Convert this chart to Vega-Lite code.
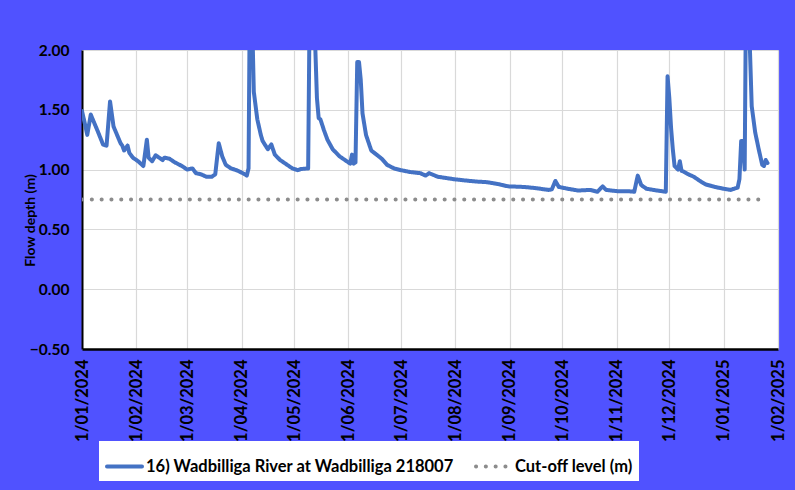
{
  "$schema": "https://vega.github.io/schema/vega-lite/v6.json",
  "width": 696,
  "height": 299,
  "autosize": {"type": "none"},
  "padding": {"left": 82, "top": 50, "right": 17, "bottom": 141},
  "background": "#5052FF",
  "config": {
    "view": {"fill": "white", "stroke": null},
    "font": "Lato",
    "axis": {"labelFont": "Lato", "labelFontWeight": "bold", "labelColor": "#000000", "titleColor": "#000000", "ticks": false, "gridColor": "#D9D9D9", "gridWidth": 1.2, "domainColor": "#000000"}
  },
  "data": {
    "values": [
      {"date": "2024-01-01", "depth": 1.49, "series": "16) Wadbilliga River at Wadbilliga 218007"},
      {"date": "2024-01-03", "depth": 1.36, "series": "16) Wadbilliga River at Wadbilliga 218007"},
      {"date": "2024-01-04", "depth": 1.29, "series": "16) Wadbilliga River at Wadbilliga 218007"},
      {"date": "2024-01-06", "depth": 1.46, "series": "16) Wadbilliga River at Wadbilliga 218007"},
      {"date": "2024-01-08", "depth": 1.39, "series": "16) Wadbilliga River at Wadbilliga 218007"},
      {"date": "2024-01-10", "depth": 1.32, "series": "16) Wadbilliga River at Wadbilliga 218007"},
      {"date": "2024-01-13", "depth": 1.21, "series": "16) Wadbilliga River at Wadbilliga 218007"},
      {"date": "2024-01-15", "depth": 1.2, "series": "16) Wadbilliga River at Wadbilliga 218007"},
      {"date": "2024-01-17", "depth": 1.57, "series": "16) Wadbilliga River at Wadbilliga 218007"},
      {"date": "2024-01-19", "depth": 1.36, "series": "16) Wadbilliga River at Wadbilliga 218007"},
      {"date": "2024-01-21", "depth": 1.29, "series": "16) Wadbilliga River at Wadbilliga 218007"},
      {"date": "2024-01-23", "depth": 1.22, "series": "16) Wadbilliga River at Wadbilliga 218007"},
      {"date": "2024-01-24", "depth": 1.2, "series": "16) Wadbilliga River at Wadbilliga 218007"},
      {"date": "2024-01-25", "depth": 1.16, "series": "16) Wadbilliga River at Wadbilliga 218007"},
      {"date": "2024-01-27", "depth": 1.2, "series": "16) Wadbilliga River at Wadbilliga 218007"},
      {"date": "2024-01-28", "depth": 1.14, "series": "16) Wadbilliga River at Wadbilliga 218007"},
      {"date": "2024-01-30", "depth": 1.1, "series": "16) Wadbilliga River at Wadbilliga 218007"},
      {"date": "2024-02-02", "depth": 1.07, "series": "16) Wadbilliga River at Wadbilliga 218007"},
      {"date": "2024-02-05", "depth": 1.03, "series": "16) Wadbilliga River at Wadbilliga 218007"},
      {"date": "2024-02-07", "depth": 1.25, "series": "16) Wadbilliga River at Wadbilliga 218007"},
      {"date": "2024-02-08", "depth": 1.1, "series": "16) Wadbilliga River at Wadbilliga 218007"},
      {"date": "2024-02-10", "depth": 1.07, "series": "16) Wadbilliga River at Wadbilliga 218007"},
      {"date": "2024-02-12", "depth": 1.12, "series": "16) Wadbilliga River at Wadbilliga 218007"},
      {"date": "2024-02-14", "depth": 1.1, "series": "16) Wadbilliga River at Wadbilliga 218007"},
      {"date": "2024-02-16", "depth": 1.08, "series": "16) Wadbilliga River at Wadbilliga 218007"},
      {"date": "2024-02-17", "depth": 1.1, "series": "16) Wadbilliga River at Wadbilliga 218007"},
      {"date": "2024-02-20", "depth": 1.09, "series": "16) Wadbilliga River at Wadbilliga 218007"},
      {"date": "2024-02-23", "depth": 1.06, "series": "16) Wadbilliga River at Wadbilliga 218007"},
      {"date": "2024-02-27", "depth": 1.03, "series": "16) Wadbilliga River at Wadbilliga 218007"},
      {"date": "2024-03-01", "depth": 1.0, "series": "16) Wadbilliga River at Wadbilliga 218007"},
      {"date": "2024-03-04", "depth": 1.01, "series": "16) Wadbilliga River at Wadbilliga 218007"},
      {"date": "2024-03-06", "depth": 0.97, "series": "16) Wadbilliga River at Wadbilliga 218007"},
      {"date": "2024-03-09", "depth": 0.96, "series": "16) Wadbilliga River at Wadbilliga 218007"},
      {"date": "2024-03-12", "depth": 0.94, "series": "16) Wadbilliga River at Wadbilliga 218007"},
      {"date": "2024-03-15", "depth": 0.94, "series": "16) Wadbilliga River at Wadbilliga 218007"},
      {"date": "2024-03-17", "depth": 0.96, "series": "16) Wadbilliga River at Wadbilliga 218007"},
      {"date": "2024-03-19", "depth": 1.22, "series": "16) Wadbilliga River at Wadbilliga 218007"},
      {"date": "2024-03-21", "depth": 1.11, "series": "16) Wadbilliga River at Wadbilliga 218007"},
      {"date": "2024-03-23", "depth": 1.04, "series": "16) Wadbilliga River at Wadbilliga 218007"},
      {"date": "2024-03-26", "depth": 1.01, "series": "16) Wadbilliga River at Wadbilliga 218007"},
      {"date": "2024-03-30", "depth": 0.99, "series": "16) Wadbilliga River at Wadbilliga 218007"},
      {"date": "2024-04-03", "depth": 0.96, "series": "16) Wadbilliga River at Wadbilliga 218007"},
      {"date": "2024-04-04", "depth": 0.95, "series": "16) Wadbilliga River at Wadbilliga 218007"},
      {"date": "2024-04-05", "depth": 1.01, "series": "16) Wadbilliga River at Wadbilliga 218007"},
      {"date": "2024-04-06", "depth": 3.0, "series": "16) Wadbilliga River at Wadbilliga 218007"},
      {"date": "2024-04-07", "depth": 2.3, "series": "16) Wadbilliga River at Wadbilliga 218007"},
      {"date": "2024-04-08", "depth": 1.65, "series": "16) Wadbilliga River at Wadbilliga 218007"},
      {"date": "2024-04-10", "depth": 1.42, "series": "16) Wadbilliga River at Wadbilliga 218007"},
      {"date": "2024-04-12", "depth": 1.29, "series": "16) Wadbilliga River at Wadbilliga 218007"},
      {"date": "2024-04-13", "depth": 1.24, "series": "16) Wadbilliga River at Wadbilliga 218007"},
      {"date": "2024-04-16", "depth": 1.17, "series": "16) Wadbilliga River at Wadbilliga 218007"},
      {"date": "2024-04-17", "depth": 1.19, "series": "16) Wadbilliga River at Wadbilliga 218007"},
      {"date": "2024-04-18", "depth": 1.21, "series": "16) Wadbilliga River at Wadbilliga 218007"},
      {"date": "2024-04-20", "depth": 1.125, "series": "16) Wadbilliga River at Wadbilliga 218007"},
      {"date": "2024-04-23", "depth": 1.08, "series": "16) Wadbilliga River at Wadbilliga 218007"},
      {"date": "2024-04-27", "depth": 1.04, "series": "16) Wadbilliga River at Wadbilliga 218007"},
      {"date": "2024-04-30", "depth": 1.01, "series": "16) Wadbilliga River at Wadbilliga 218007"},
      {"date": "2024-05-03", "depth": 0.995, "series": "16) Wadbilliga River at Wadbilliga 218007"},
      {"date": "2024-05-05", "depth": 1.005, "series": "16) Wadbilliga River at Wadbilliga 218007"},
      {"date": "2024-05-09", "depth": 1.01, "series": "16) Wadbilliga River at Wadbilliga 218007"},
      {"date": "2024-05-10", "depth": 2.6, "series": "16) Wadbilliga River at Wadbilliga 218007"},
      {"date": "2024-05-11", "depth": 2.6, "series": "16) Wadbilliga River at Wadbilliga 218007"},
      {"date": "2024-05-12", "depth": 2.4, "series": "16) Wadbilliga River at Wadbilliga 218007"},
      {"date": "2024-05-13", "depth": 2.05, "series": "16) Wadbilliga River at Wadbilliga 218007"},
      {"date": "2024-05-14", "depth": 1.6, "series": "16) Wadbilliga River at Wadbilliga 218007"},
      {"date": "2024-05-15", "depth": 1.43, "series": "16) Wadbilliga River at Wadbilliga 218007"},
      {"date": "2024-05-16", "depth": 1.42, "series": "16) Wadbilliga River at Wadbilliga 218007"},
      {"date": "2024-05-18", "depth": 1.33, "series": "16) Wadbilliga River at Wadbilliga 218007"},
      {"date": "2024-05-20", "depth": 1.25, "series": "16) Wadbilliga River at Wadbilliga 218007"},
      {"date": "2024-05-23", "depth": 1.17, "series": "16) Wadbilliga River at Wadbilliga 218007"},
      {"date": "2024-05-27", "depth": 1.11, "series": "16) Wadbilliga River at Wadbilliga 218007"},
      {"date": "2024-05-31", "depth": 1.07, "series": "16) Wadbilliga River at Wadbilliga 218007"},
      {"date": "2024-06-02", "depth": 1.05, "series": "16) Wadbilliga River at Wadbilliga 218007"},
      {"date": "2024-06-03", "depth": 1.125, "series": "16) Wadbilliga River at Wadbilliga 218007"},
      {"date": "2024-06-04", "depth": 1.05, "series": "16) Wadbilliga River at Wadbilliga 218007"},
      {"date": "2024-06-05", "depth": 1.06, "series": "16) Wadbilliga River at Wadbilliga 218007"},
      {"date": "2024-06-06", "depth": 1.9, "series": "16) Wadbilliga River at Wadbilliga 218007"},
      {"date": "2024-06-07", "depth": 1.9, "series": "16) Wadbilliga River at Wadbilliga 218007"},
      {"date": "2024-06-08", "depth": 1.75, "series": "16) Wadbilliga River at Wadbilliga 218007"},
      {"date": "2024-06-09", "depth": 1.47, "series": "16) Wadbilliga River at Wadbilliga 218007"},
      {"date": "2024-06-11", "depth": 1.29, "series": "16) Wadbilliga River at Wadbilliga 218007"},
      {"date": "2024-06-14", "depth": 1.16, "series": "16) Wadbilliga River at Wadbilliga 218007"},
      {"date": "2024-06-17", "depth": 1.125, "series": "16) Wadbilliga River at Wadbilliga 218007"},
      {"date": "2024-06-20", "depth": 1.09, "series": "16) Wadbilliga River at Wadbilliga 218007"},
      {"date": "2024-06-23", "depth": 1.04, "series": "16) Wadbilliga River at Wadbilliga 218007"},
      {"date": "2024-06-27", "depth": 1.01, "series": "16) Wadbilliga River at Wadbilliga 218007"},
      {"date": "2024-07-01", "depth": 0.995, "series": "16) Wadbilliga River at Wadbilliga 218007"},
      {"date": "2024-07-06", "depth": 0.98, "series": "16) Wadbilliga River at Wadbilliga 218007"},
      {"date": "2024-07-12", "depth": 0.97, "series": "16) Wadbilliga River at Wadbilliga 218007"},
      {"date": "2024-07-15", "depth": 0.95, "series": "16) Wadbilliga River at Wadbilliga 218007"},
      {"date": "2024-07-17", "depth": 0.97, "series": "16) Wadbilliga River at Wadbilliga 218007"},
      {"date": "2024-07-22", "depth": 0.94, "series": "16) Wadbilliga River at Wadbilliga 218007"},
      {"date": "2024-07-31", "depth": 0.92, "series": "16) Wadbilliga River at Wadbilliga 218007"},
      {"date": "2024-08-06", "depth": 0.91, "series": "16) Wadbilliga River at Wadbilliga 218007"},
      {"date": "2024-08-13", "depth": 0.9, "series": "16) Wadbilliga River at Wadbilliga 218007"},
      {"date": "2024-08-19", "depth": 0.895, "series": "16) Wadbilliga River at Wadbilliga 218007"},
      {"date": "2024-08-25", "depth": 0.88, "series": "16) Wadbilliga River at Wadbilliga 218007"},
      {"date": "2024-08-31", "depth": 0.86, "series": "16) Wadbilliga River at Wadbilliga 218007"},
      {"date": "2024-09-09", "depth": 0.855, "series": "16) Wadbilliga River at Wadbilliga 218007"},
      {"date": "2024-09-16", "depth": 0.845, "series": "16) Wadbilliga River at Wadbilliga 218007"},
      {"date": "2024-09-23", "depth": 0.83, "series": "16) Wadbilliga River at Wadbilliga 218007"},
      {"date": "2024-09-25", "depth": 0.835, "series": "16) Wadbilliga River at Wadbilliga 218007"},
      {"date": "2024-09-27", "depth": 0.905, "series": "16) Wadbilliga River at Wadbilliga 218007"},
      {"date": "2024-09-29", "depth": 0.855, "series": "16) Wadbilliga River at Wadbilliga 218007"},
      {"date": "2024-10-04", "depth": 0.84, "series": "16) Wadbilliga River at Wadbilliga 218007"},
      {"date": "2024-10-10", "depth": 0.825, "series": "16) Wadbilliga River at Wadbilliga 218007"},
      {"date": "2024-10-17", "depth": 0.83, "series": "16) Wadbilliga River at Wadbilliga 218007"},
      {"date": "2024-10-21", "depth": 0.815, "series": "16) Wadbilliga River at Wadbilliga 218007"},
      {"date": "2024-10-24", "depth": 0.86, "series": "16) Wadbilliga River at Wadbilliga 218007"},
      {"date": "2024-10-26", "depth": 0.83, "series": "16) Wadbilliga River at Wadbilliga 218007"},
      {"date": "2024-11-01", "depth": 0.82, "series": "16) Wadbilliga River at Wadbilliga 218007"},
      {"date": "2024-11-07", "depth": 0.82, "series": "16) Wadbilliga River at Wadbilliga 218007"},
      {"date": "2024-11-11", "depth": 0.815, "series": "16) Wadbilliga River at Wadbilliga 218007"},
      {"date": "2024-11-13", "depth": 0.95, "series": "16) Wadbilliga River at Wadbilliga 218007"},
      {"date": "2024-11-15", "depth": 0.87, "series": "16) Wadbilliga River at Wadbilliga 218007"},
      {"date": "2024-11-18", "depth": 0.84, "series": "16) Wadbilliga River at Wadbilliga 218007"},
      {"date": "2024-11-24", "depth": 0.825, "series": "16) Wadbilliga River at Wadbilliga 218007"},
      {"date": "2024-11-29", "depth": 0.815, "series": "16) Wadbilliga River at Wadbilliga 218007"},
      {"date": "2024-11-30", "depth": 1.78, "series": "16) Wadbilliga River at Wadbilliga 218007"},
      {"date": "2024-12-01", "depth": 1.6, "series": "16) Wadbilliga River at Wadbilliga 218007"},
      {"date": "2024-12-02", "depth": 1.35, "series": "16) Wadbilliga River at Wadbilliga 218007"},
      {"date": "2024-12-03", "depth": 1.17, "series": "16) Wadbilliga River at Wadbilliga 218007"},
      {"date": "2024-12-04", "depth": 1.03, "series": "16) Wadbilliga River at Wadbilliga 218007"},
      {"date": "2024-12-06", "depth": 1.0, "series": "16) Wadbilliga River at Wadbilliga 218007"},
      {"date": "2024-12-07", "depth": 1.07, "series": "16) Wadbilliga River at Wadbilliga 218007"},
      {"date": "2024-12-08", "depth": 0.99, "series": "16) Wadbilliga River at Wadbilliga 218007"},
      {"date": "2024-12-09", "depth": 0.985, "series": "16) Wadbilliga River at Wadbilliga 218007"},
      {"date": "2024-12-12", "depth": 0.96, "series": "16) Wadbilliga River at Wadbilliga 218007"},
      {"date": "2024-12-15", "depth": 0.94, "series": "16) Wadbilliga River at Wadbilliga 218007"},
      {"date": "2024-12-19", "depth": 0.9, "series": "16) Wadbilliga River at Wadbilliga 218007"},
      {"date": "2024-12-22", "depth": 0.875, "series": "16) Wadbilliga River at Wadbilliga 218007"},
      {"date": "2024-12-27", "depth": 0.855, "series": "16) Wadbilliga River at Wadbilliga 218007"},
      {"date": "2025-01-01", "depth": 0.84, "series": "16) Wadbilliga River at Wadbilliga 218007"},
      {"date": "2025-01-05", "depth": 0.83, "series": "16) Wadbilliga River at Wadbilliga 218007"},
      {"date": "2025-01-07", "depth": 0.84, "series": "16) Wadbilliga River at Wadbilliga 218007"},
      {"date": "2025-01-09", "depth": 0.85, "series": "16) Wadbilliga River at Wadbilliga 218007"},
      {"date": "2025-01-10", "depth": 0.92, "series": "16) Wadbilliga River at Wadbilliga 218007"},
      {"date": "2025-01-11", "depth": 1.24, "series": "16) Wadbilliga River at Wadbilliga 218007"},
      {"date": "2025-01-12", "depth": 1.24, "series": "16) Wadbilliga River at Wadbilliga 218007"},
      {"date": "2025-01-13", "depth": 1.0, "series": "16) Wadbilliga River at Wadbilliga 218007"},
      {"date": "2025-01-14", "depth": 3.0, "series": "16) Wadbilliga River at Wadbilliga 218007"},
      {"date": "2025-01-15", "depth": 2.6, "series": "16) Wadbilliga River at Wadbilliga 218007"},
      {"date": "2025-01-16", "depth": 2.0, "series": "16) Wadbilliga River at Wadbilliga 218007"},
      {"date": "2025-01-17", "depth": 1.53, "series": "16) Wadbilliga River at Wadbilliga 218007"},
      {"date": "2025-01-19", "depth": 1.31, "series": "16) Wadbilliga River at Wadbilliga 218007"},
      {"date": "2025-01-21", "depth": 1.17, "series": "16) Wadbilliga River at Wadbilliga 218007"},
      {"date": "2025-01-23", "depth": 1.04, "series": "16) Wadbilliga River at Wadbilliga 218007"},
      {"date": "2025-01-24", "depth": 1.03, "series": "16) Wadbilliga River at Wadbilliga 218007"},
      {"date": "2025-01-25", "depth": 1.08, "series": "16) Wadbilliga River at Wadbilliga 218007"},
      {"date": "2025-01-26", "depth": 1.055, "series": "16) Wadbilliga River at Wadbilliga 218007"},
      {"date": "2024-01-01", "depth": 0.75, "series": "Cut-off level (m)"},
      {"date": "2025-01-25", "depth": 0.75, "series": "Cut-off level (m)"}
    ]
  },
  "mark": {"type": "line", "strokeWidth": 4, "strokeCap": "round", "strokeJoin": "round", "clip": true},
  "encoding": {
    "x": {
      "field": "date",
      "type": "temporal",
      "scale": {"type": "utc", "domain": [{"year": 2024, "month": 1, "date": 1, "utc": true}, {"year": 2025, "month": 2, "date": 1, "utc": true}], "nice": false},
      "axis": {
        "title": null,
        "format": "%-d/%m/%Y",
        "tickCount": {"interval": "month", "step": 1},
        "labelAngle": -90,
        "labelFontSize": 16.5,
        "labelPadding": 10,
        "labelOverlap": false,
        "labelFlush": false,
        "domainWidth": 2.5,
        "grid": true
      }
    },
    "y": {
      "field": "depth",
      "type": "quantitative",
      "scale": {"domain": [-0.5, 2], "nice": false, "zero": false},
      "axis": {
        "title": "Flow depth (m)",
        "titleFontSize": 14,
        "titleFontWeight": "bold",
        "titleFont": "Lato",
        "titleX": -45,
        "titleY": 170,
        "values": [-0.5, 0, 0.5, 1, 1.5, 2],
        "format": ".2f",
        "labelFontSize": 15.5,
        "labelPadding": 13,
        "domainWidth": 2,
        "grid": true
      }
    },
    "color": {
      "field": "series",
      "type": "nominal",
      "scale": {"domain": ["16) Wadbilliga River at Wadbilliga 218007", "Cut-off level (m)"], "range": ["#4472C4", "#8C8C8C"]},
      "legend": {
        "title": null,
        "orient": "none",
        "legendX": 17,
        "legendY": 391,
        "direction": "horizontal",
        "fillColor": "white",
        "padding": 6,
        "labelFont": "Lato",
        "labelFontWeight": "bold",
        "labelFontSize": 16.5,
        "labelColor": "#000000",
        "labelLimit": 400,
        "symbolType": "stroke",
        "symbolSize": 1225,
        "symbolStrokeWidth": 4,
        "columnPadding": 14,
        "labelOffset": 2,
        "encode": {"symbols": {"update": {"strokeCap": {"value": "round"}}}}
      }
    },
    "strokeDash": {
      "field": "series",
      "type": "nominal",
      "scale": {"domain": ["16) Wadbilliga River at Wadbilliga 218007", "Cut-off level (m)"], "range": [[1, 0], [0.1, 9.7]]},
      "legend": null
    }
  }
}
